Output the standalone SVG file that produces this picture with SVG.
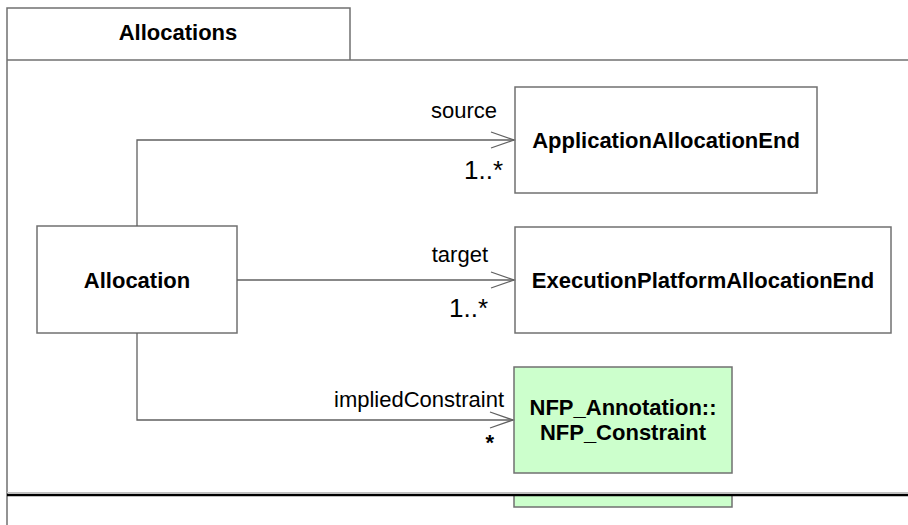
<svg xmlns="http://www.w3.org/2000/svg" width="908" height="525" viewBox="0 0 908 525">
<defs>
<marker id="open" markerWidth="26" markerHeight="20" refX="24" refY="9" orient="auto" markerUnits="userSpaceOnUse">
<polyline points="1,1 24,9 1,17" fill="none" stroke="#606060" stroke-width="1.3"/>
</marker>
</defs>
<style>
.frame{fill:none;stroke:#707070;stroke-width:1.5}
.box{fill:#ffffff;stroke:#707070;stroke-width:1.5}
.green{fill:#ccffcc;stroke:#707070;stroke-width:1.5}
.title{font-family:"Liberation Sans",Arial,sans-serif;font-weight:bold;font-size:22px;fill:#000}
.lbl{font-family:"Liberation Sans",Arial,sans-serif;font-size:22px;fill:#000}
.mult{font-family:"Liberation Sans",Arial,sans-serif;font-size:26px;fill:#000}
.conn{fill:none;stroke:#606060;stroke-width:1.3}
</style>
<rect width="908" height="525" fill="#ffffff"/>
<g id="package">
<polyline class="frame" points="7,525 7,8 350,8 350,60"/>
<line class="frame" x1="7" y1="60" x2="908" y2="60"/>
<text class="title" x="178" y="40" text-anchor="middle">Allocations</text>
</g>
<g id="Allocation">
<rect class="box" x="37" y="226" width="200" height="107"/>
<text class="title" x="137" y="288" text-anchor="middle">Allocation</text>
</g>
<g id="ApplicationAllocationEnd">
<rect class="box" x="515" y="87" width="302" height="106"/>
<text class="title" x="666" y="148" text-anchor="middle">ApplicationAllocationEnd</text>
</g>
<g id="ExecutionPlatformAllocationEnd">
<rect class="box" x="515" y="227" width="376" height="106"/>
<text class="title" x="703" y="288" text-anchor="middle">ExecutionPlatformAllocationEnd</text>
</g>
<g id="NFP_Constraint">
<rect class="green" x="514" y="367" width="218" height="106"/>
<text class="title" x="623" y="415" text-anchor="middle">NFP_Annotation::</text>
<text class="title" x="623" y="440" text-anchor="middle">NFP_Constraint</text>
</g>
<g id="NFP_Constraint_lower">
<rect class="green" x="514" y="495" width="218" height="12"/>
</g>
<g id="connectors">
<polyline class="conn" points="137,226 137,140 514,140" marker-end="url(#open)"/>
<text class="lbl" x="497" y="118" text-anchor="end">source</text>
<text class="mult" x="503" y="179" text-anchor="end">1..*</text>
<polyline class="conn" points="237,280 514,280" marker-end="url(#open)"/>
<text class="lbl" x="488" y="262" text-anchor="end">target</text>
<text class="mult" x="488" y="317" text-anchor="end">1..*</text>
<polyline class="conn" points="137,333 137,420 513,420" marker-end="url(#open)"/>
<text class="lbl" x="504" y="407" text-anchor="end">impliedConstraint</text>
<text class="title" x="494" y="450" text-anchor="end">*</text>
</g>
<g id="cut">
<line x1="7" y1="492.5" x2="908" y2="492.5" stroke="#c0c0c0" stroke-width="1"/>
<line x1="7" y1="495" x2="908" y2="495" stroke="#000000" stroke-width="2.5"/>
</g>
</svg>
